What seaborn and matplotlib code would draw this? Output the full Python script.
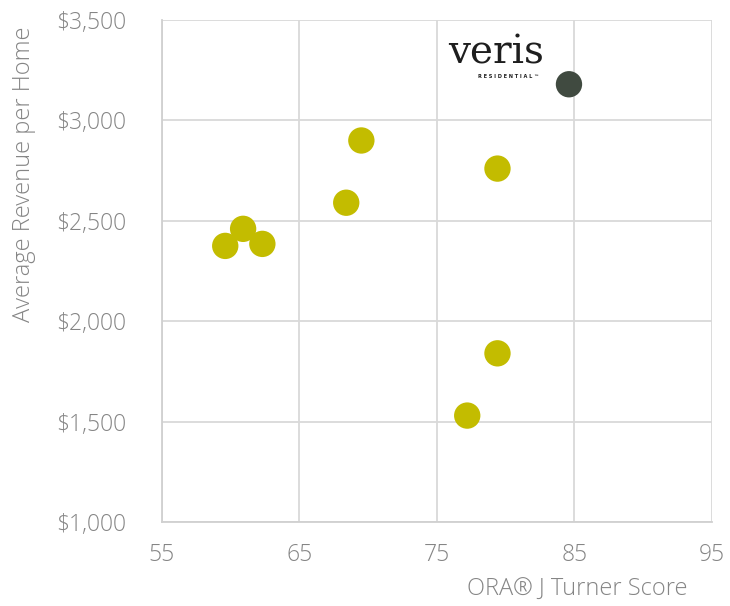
import matplotlib
matplotlib.use("Agg")
import matplotlib.pyplot as plt
import seaborn as sns
import pandas as pd
from matplotlib.ticker import FuncFormatter

# ORA score vs. average monthly revenue per home
peer_scores = [59.6, 60.9, 62.3, 68.4, 69.5, 79.4, 79.4, 77.2]
peer_revenue = [2375, 2460, 2385, 2590, 2900, 2760, 1840, 1530]
veris_score = [84.6]
veris_revenue = [3180]

x_ticks = [55, 65, 75, 85, 95]
y_ticks = [1000, 1500, 2000, 2500, 3000, 3500]

sns.set_theme(style="white")
plt.rcParams["font.family"] = ["Open Sans", "DejaVu Sans"]
plt.rcParams["font.weight"] = "light"

df = pd.DataFrame({
    "score": peer_scores + veris_score,
    "revenue": peer_revenue + veris_revenue,
    "group": ["Peers"] * len(peer_scores) + ["Veris"] * len(veris_score),
})

fig = plt.figure(figsize=(7.3, 6.06), dpi=100)
ax = fig.add_axes([0.2219, 0.1386, 0.7534, 0.8284])

sns.scatterplot(
    data=df, x="score", y="revenue", hue="group",
    palette={"Peers": "#C3BC00", "Veris": "#404A40"},
    s=360, linewidth=0, legend=False, ax=ax, zorder=3,
)

ax.set_xlim(55, 95)
ax.set_ylim(1000, 3500)
ax.set_xticks(x_ticks)
ax.set_yticks(y_ticks)
ax.yaxis.set_major_formatter(FuncFormatter(lambda v, p: f"${v:,.0f}"))
ax.grid(True, color="#D9D9D9", linewidth=1.3)
ax.set_axisbelow(True)
for side in ["top", "right"]:
    ax.spines[side].set_visible(False)
for side in ["left", "bottom"]:
    ax.spines[side].set_color("#D0D0D0")
    ax.spines[side].set_linewidth(1.3)

text_grey = "#858585"
ax.tick_params(axis="both", length=0, labelsize=16.5, colors=text_grey)
ax.tick_params(axis="y", pad=26)
ax.tick_params(axis="x", pad=15)
for lbl in ax.get_xticklabels() + ax.get_yticklabels():
    lbl.set_fontweight("light")

ax.set_xlabel("ORA® J Turner Score", fontsize=17, color=text_grey, fontweight="light")
ax.xaxis.set_label_coords(0.955, -0.112)
ax.xaxis.label.set_horizontalalignment("right")
ax.set_ylabel("Average Revenue per Home", fontsize=17, color=text_grey, fontweight="light")
ax.yaxis.set_label_coords(-0.25, 0.987)
ax.yaxis.label.set_verticalalignment("center")
ax.yaxis.label.set_horizontalalignment("right")

# Company wordmark next to its point
fig.text(496 / 730, 1 - 64 / 606, "veris", fontsize=28, color="#1E1E1E",
         family=["DejaVu Serif"], ha="center", va="baseline")
fig.text(509 / 730, 1 - 76 / 606, "R E S I D E N T I A L ™", fontsize=3.6,
         color="#1E1E1E", ha="center", va="center", fontweight="bold",
         family=["DejaVu Sans"])

fig.savefig("out.png", dpi=100)
